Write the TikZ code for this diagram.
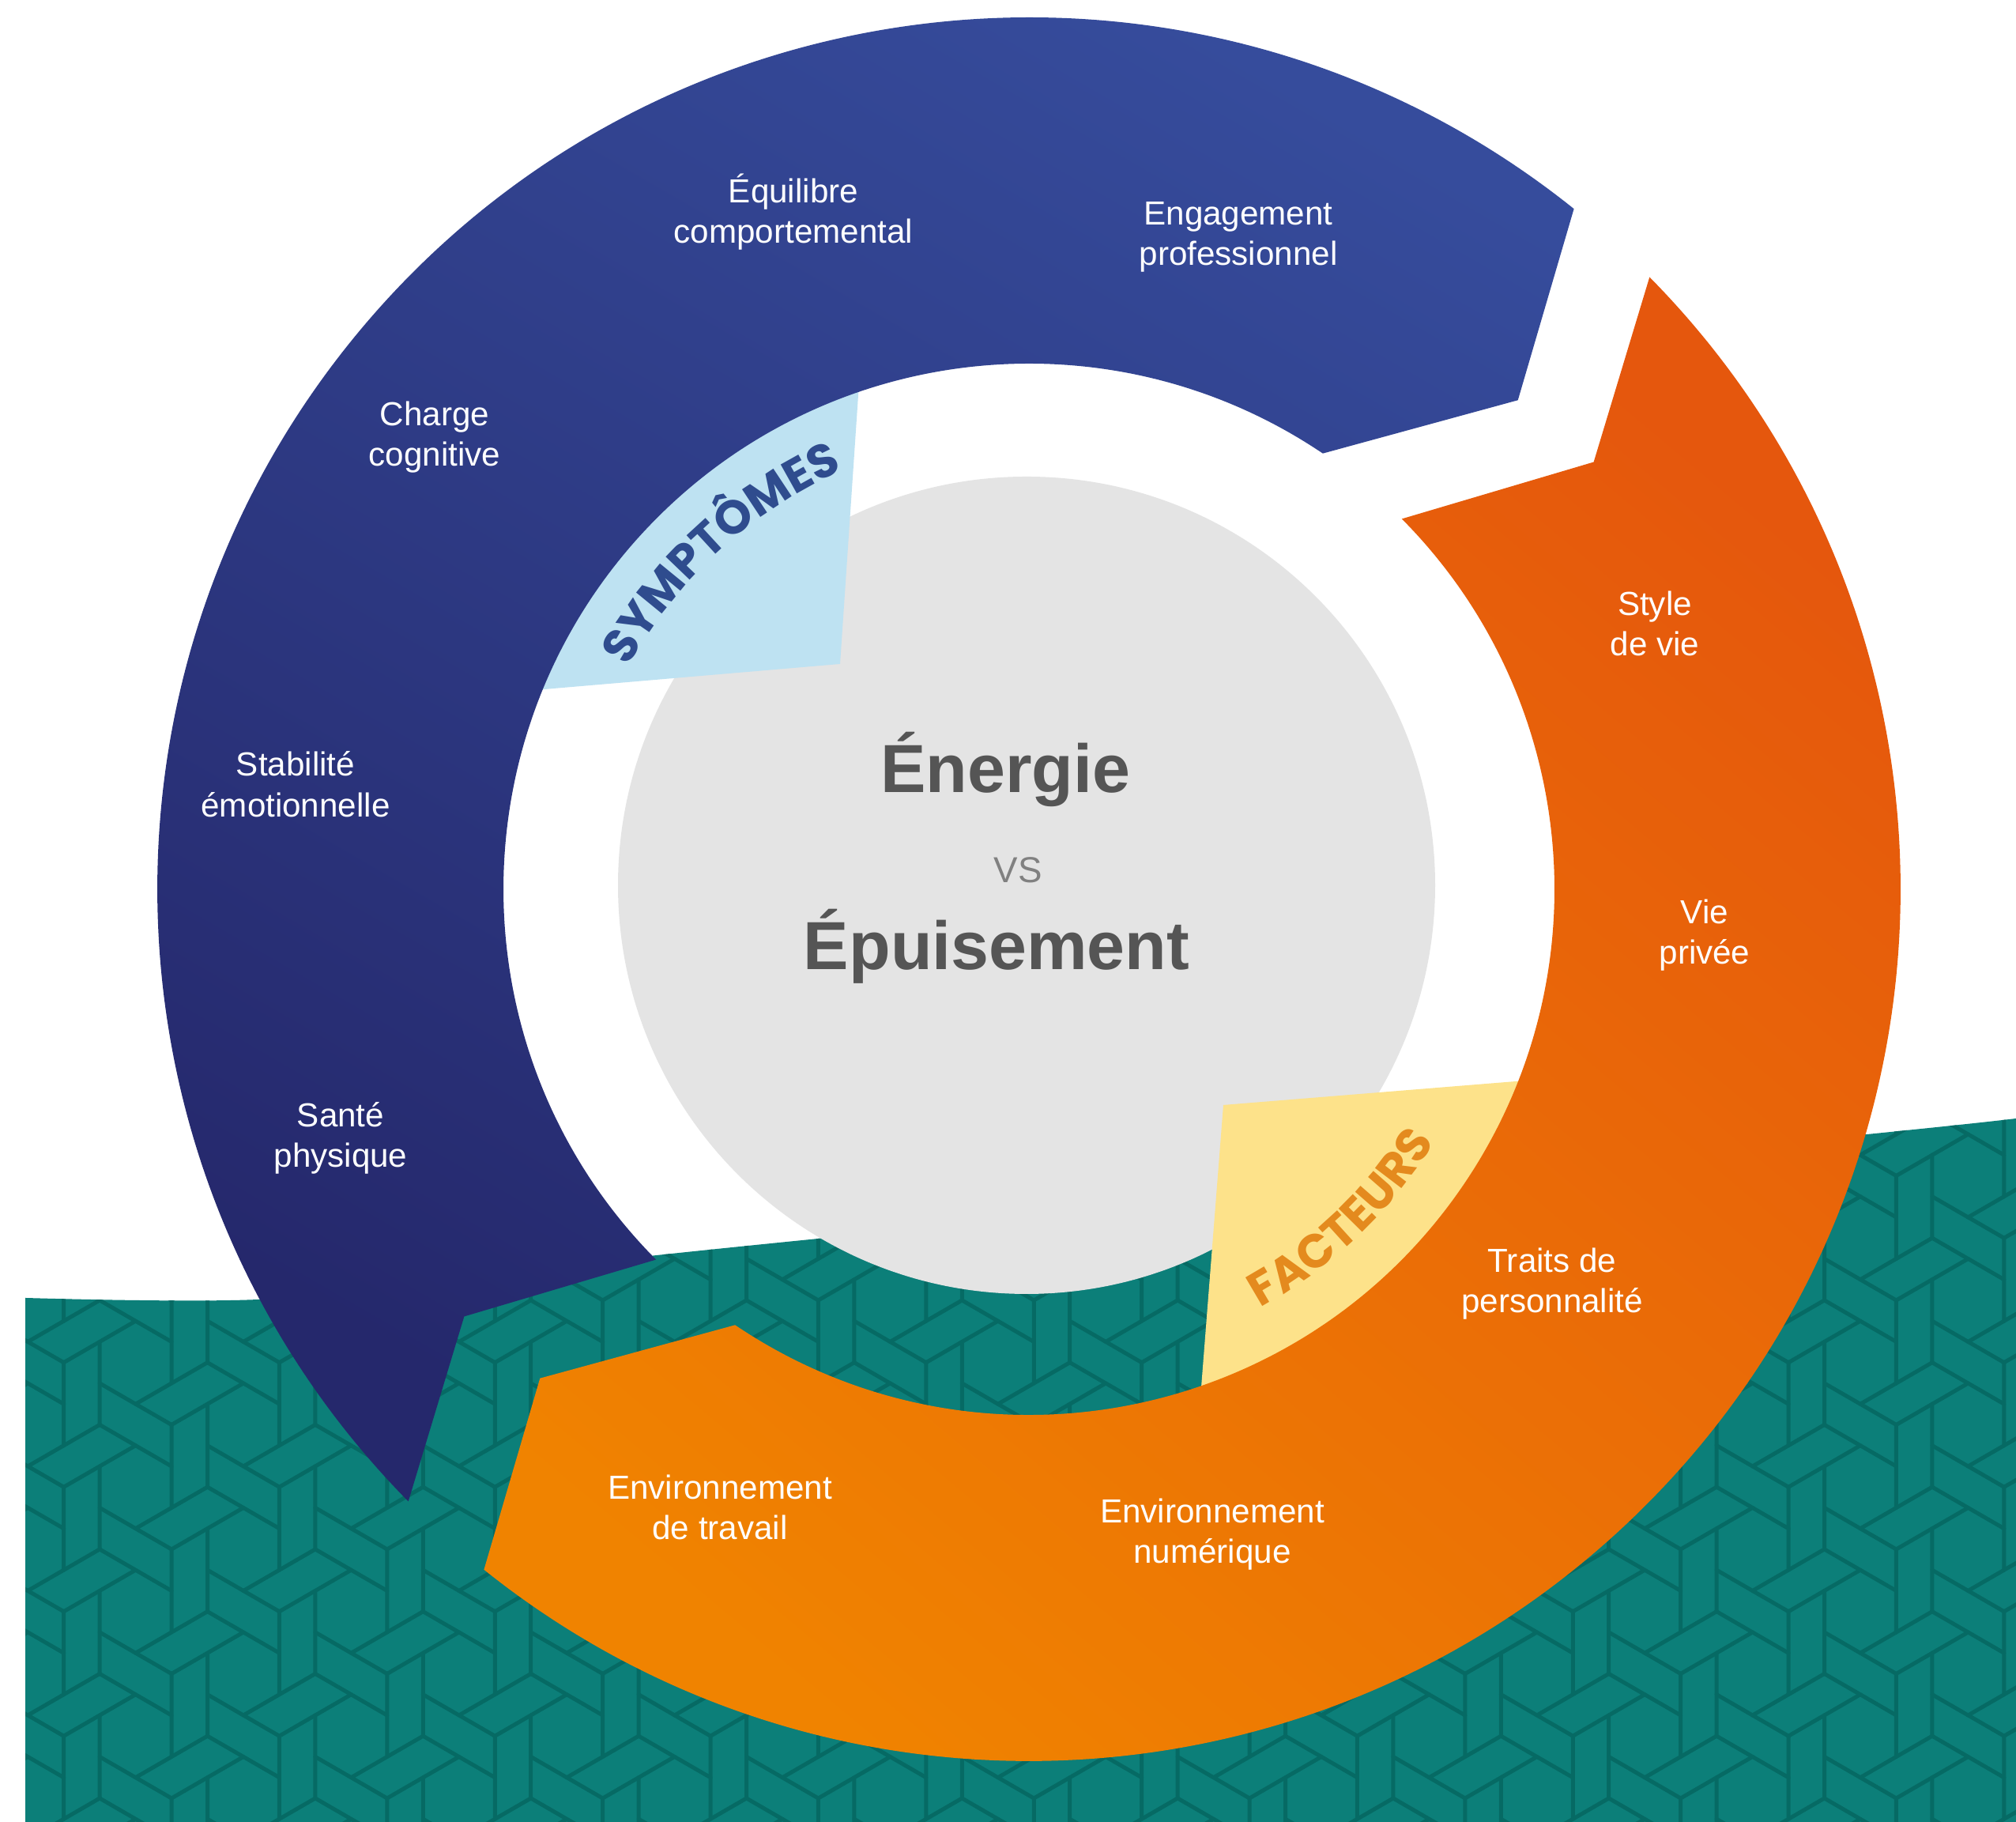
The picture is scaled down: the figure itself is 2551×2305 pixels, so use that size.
\documentclass[tikz,border=0pt]{standalone}
\usepackage{fontspec}
\setmainfont{Liberation Sans}
\newfontfamily\tabfont{Poppins}
\usetikzlibrary{decorations.text}

\definecolor{bluetop}{HTML}{364C9C}
\definecolor{bluebot}{HTML}{25286C}
\definecolor{orgtop}{HTML}{E5570D}
\definecolor{orgbot}{HTML}{F08300}
\definecolor{tealbg}{HTML}{0C7F79}
\definecolor{tealline}{HTML}{066A64}
\definecolor{graydisc}{HTML}{E4E4E4}
\definecolor{tabblue}{HTML}{BEE2F2}
\definecolor{tabyellow}{HTML}{FDE28A}
\definecolor{symtxt}{HTML}{2F4C8E}
\definecolor{factxt}{HTML}{E48A1E}
\definecolor{centertxt}{HTML}{555555}
\definecolor{vstxt}{HTML}{808080}

\tikzset{
  ringlabel/.style={text=white, align=center, inner sep=0pt,
    font=\fontsize{12}{14.7}\selectfont},
  hexline/.style={draw=tealline, line width=0.5mm, line join=round, line cap=round},
  bigword/.style={text=centertxt, anchor=base, inner sep=0pt,
    font=\bfseries\fontsize{24.5}{28}\selectfont},
}

\begin{document}
\begin{tikzpicture}[x=0.1mm,y=0.1mm]
\fill[white] (0,0) rectangle (2551,2305);
\useasboundingbox (0,0) rectangle (2551,2305);

% teal ground with a woven hexagon motif
\begin{scope}
  \clip (32,0) -- plot[smooth, tension=0.6] coordinates
    {(32,663) (327,661) (600,688) (850,719) (1600,794) (2363,870) (2551,890)}
    -- (2551,0) -- cycle;
  \fill[tealbg] (0,0) rectangle (2551,2305);
  \foreach \i in {-3,...,18}{
    \foreach \j in {-3,...,5}{
      \pgfmathsetmacro\cx{308+136.4*\i}
      \pgfmathsetmacro\cy{345+157.5*\j+78.75*Mod(\i,2)}
      \draw[hexline] (\cx,\cy) ++(0,52.5) -- ++(45.47,-26.25) -- ++(0,-52.5)
        -- ++(-45.47,-26.25) -- ++(-45.47,26.25) -- ++(0,52.5) -- cycle;
      \draw[hexline]
        (\cx,\cy) ++(0,-52.5) -- ++(45.47,-26.25)
        (\cx,\cy) ++(0,52.5) -- ++(-45.47,26.25)
        (\cx,\cy) ++(45.47,26.25) -- ++(0,52.5)
        (\cx,\cy) ++(-45.47,-26.25) -- ++(0,-52.5)
        (\cx,\cy) ++(-45.47,26.25) -- ++(-45.47,-26.25)
        (\cx,\cy) ++(45.47,-26.25) -- ++(45.47,26.25);
    }
  }
\end{scope}

% central disc
\fill[graydisc] (1299,1185) circle[radius=51.7mm];

\begin{scope}[shift={(1302,1180)}]
  % inner tabs
  \fill[tabblue] (-23.9mm,28.5mm) -- (108.4:68mm)
    arc[start angle=108.4, end angle=158.3, radius=68mm] -- cycle;
  \fill[tabyellow] (24.6mm,-27.3mm) -- (-20.8:68mm)
    arc[start angle=-20.8, end angle=-71.4, radius=68mm] -- cycle;

  % blue arrow band (symptoms)
  \shade[top color=bluetop, bottom color=bluebot, shading angle=-30]
    (51.3:110.3mm) arc[start angle=51.3, end angle=224.6, radius=110.3mm]
    -- (217.1:89.6mm) -- (224.8:66.5mm)
    arc[start angle=224.8, end angle=56, radius=66.5mm]
    -- (45:87.5mm) -- cycle;

  % orange arrow band (factors)
  \shade[top color=orgtop, bottom color=orgbot, shading angle=-40]
    (44.6:110.3mm) arc[start angle=44.6, end angle=-128.7, radius=110.3mm]
    -- (-135:87.5mm) -- (-124:66.5mm)
    arc[start angle=-124, end angle=44.8, radius=66.5mm]
    -- (37.1:89.6mm) -- cycle;

  % curved tab titles
  \path[decorate, decoration={text along path, text align=center,
      text color=symtxt,
      text={|\tabfont\bfseries\fontsize{17}{17}\selectfont|SYMPTÔMES}}]
    (160:58mm) arc[start angle=160, end angle=105, radius=58mm];
  \path[decorate, decoration={text along path, text align=center,
      text color=factxt,
      text={|\tabfont\bfseries\fontsize{17}{17}\selectfont|FACTEURS}}]
    (-74:60.5mm) arc[start angle=-74, end angle=-19, radius=60.5mm];
\end{scope}

% centre title
\node[bigword] (energie) at (1272,1302) {Énergie};
\node[text=vstxt, anchor=base, inner sep=0pt,
  font=\fontsize{13}{15}\selectfont] (vs) at (1288,1188) {VS};
\node[bigword] (epuisement) at (1261,1078) {Épuisement};

% symptom labels
\node[ringlabel] (equilibre) at (1004,2037) {Équilibre\\comportemental};
\node[ringlabel] (engagement) at (1567,2005) {Engagement\\professionnel};
\node[ringlabel] (charge) at (550,1752) {Charge\\cognitive};
\node[ringlabel] (stabilite) at (374,1313) {Stabilité\\émotionnelle};
\node[ringlabel] (sante) at (431,865) {Santé\\physique};

% factor labels
\node[ringlabel] (style) at (2094,1516) {Style\\de vie};
\node[ringlabel] (vieprivee) at (2157,1122) {Vie\\privée};
\node[ringlabel] (traits) at (1964,681) {Traits de\\personnalité};
\node[ringlabel] (numerique) at (1534,364) {Environnement\\numérique};
\node[ringlabel] (travail) at (911,398) {Environnement\\de travail};
\end{tikzpicture}
\end{document}
